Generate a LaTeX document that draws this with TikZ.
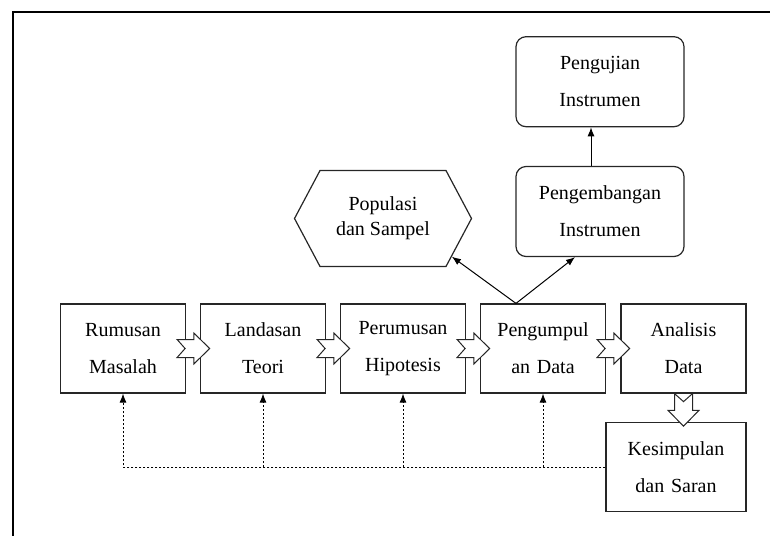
\documentclass[tikz,border=0pt]{standalone}
\usepackage{fontspec}
\setmainfont{Liberation Serif}
\usetikzlibrary{calc,arrows.meta,shapes.symbols}

\begin{document}
\begin{tikzpicture}[x=1pt,y=-1pt]
        \useasboundingbox (0,0) rectangle (770,536);
        \tikzstyle{every node}=[font=\fontsize{20}{37}\selectfont, align=center, inner sep=2pt]
        \tikzstyle{box}=[draw=black!85, line width=1.2pt, minimum width=125, minimum height=89, text width=118]
        \tikzstyle{roundbox}=[box, rounded corners=10, minimum width=168, minimum height=90, text width=160]
        \tikzstyle{hexbox}=[draw=black!85, line width=1.2pt, shape=signal, signal to=east and west,
            signal pointer angle=124, minimum width=177, minimum height=96,
            font=\fontsize{20}{25}\selectfont]
        \tikzstyle{fat}=[draw=black!85, line width=1pt, fill=white]
        \tikzstyle{line}=[black, line width=1pt, -{Latex[length=9pt,width=7pt]}]
        \tikzstyle{back}=[line, dash pattern=on 2.5pt off 1.5pt, line width=0.9pt]
        \tikzset{fatarrow/.pic={
            \draw[fat] (0,-9) -- (16.7,-9) -- (16.7,-15.5) -- (32.6,0) -- (16.7,15.5)
                -- (16.7,9) -- (0,9) -- (8,0) -- cycle;}}

        % frame
        \draw[line width=1.8pt] (770,12) -- (13,12) -- (13,536);

        % main row
        \node[box] (rumusan)     at (123,   348.5) {Rumusan\\Masalah};
        \node[box] (landasan)    at (263,   348.5) {Landasan\\Teori};
        \node[box] (perumusan)   at (403,   348.5) {Perumusan\\Hipotesis};
        \node[box] (pengumpulan) at (543,   348.5) {Pengumpul\\an Data};
        \node[box] (analisis)    at (683.5, 348.5) {Analisis\\Data};
        \node[box, minimum width=140, minimum height=88.5] (kesimpulan) at (676, 467) {Kesimpulan\\dan Saran};

        % upper part
        \node[hexbox]    (populasi)     at (383, 218.5) {Populasi\\dan Sampel};
        \node[roundbox]  (pengembangan) at (600, 211.5) {Pengembangan\\Instrumen};
        \node[roundbox]  (pengujian)    at (600, 81.7)  {Pengujian\\Instrumen};

        \coordinate (split) at ($(pengumpulan.north)+(-27,0)$);
        \draw[line] (split) -- (populasi.-29);
        \draw[line] (split) -- ($(pengembangan.south)+(-25,0)$);
        \draw[line] ($(pengembangan.north)+(-9,0)$) -- ($(pengujian.south)+(-9,0)$);

        % block arrows
        \foreach \n in {rumusan,landasan,perumusan,pengumpulan}
            \pic at ($(\n.east)+(-9,0)$) {fatarrow};
        \pic[rotate=-90] at (analisis.south) {fatarrow};

        % feedback
        \draw[back] (kesimpulan.west) -| (rumusan.south);
        \foreach \n in {landasan,perumusan,pengumpulan}
            \draw[back] (\n.south |- kesimpulan.west) -- (\n.south);
    \end{tikzpicture}
\end{document}
